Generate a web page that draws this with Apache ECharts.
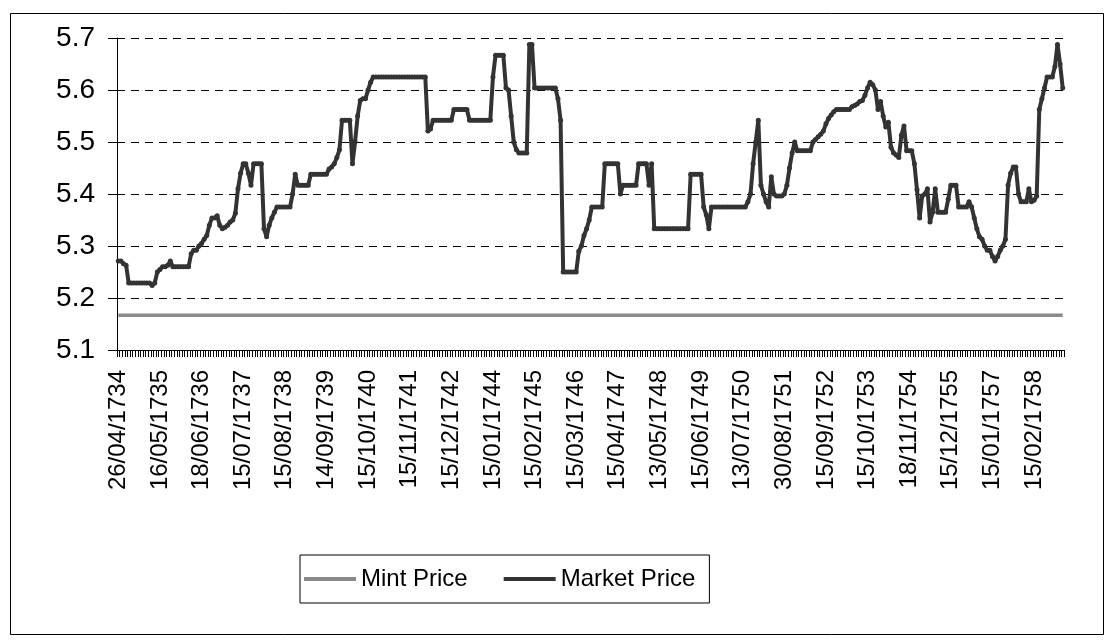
<!DOCTYPE html>
<html>
<head>
<meta charset="utf-8">
<script src="https://cdn.jsdelivr.net/npm/echarts@6/dist/echarts.min.js"></script>
<style>
html,body{margin:0;padding:0;background:#fff;}
#chart{width:1114px;height:644px;}
</style>
</head>
<body>
<div id="chart"></div>
<script>
// Visible date labels (one every 16 observations)
const tickLabels = ['26/04/1734','16/05/1735','18/06/1736','15/07/1737','15/08/1738','14/09/1739',
  '15/10/1740','15/11/1741','15/12/1742','15/01/1744','15/02/1745','15/03/1746','15/04/1747',
  '13/05/1748','15/06/1749','13/07/1750','30/08/1751','15/09/1752','15/10/1753','18/11/1754',
  '15/12/1755','15/01/1757','15/02/1758'];
const obsPerLabel = 16;

// Market price of silver (shillings per ounce)
const marketPrice = [
  5.271,5.271,5.266,5.263,5.229,5.229,5.229,5.229,5.229,5.229,
  5.229,5.229,5.229,5.224,5.229,5.25,5.255,5.26,5.26,5.263,
  5.271,5.26,5.26,5.26,5.26,5.26,5.26,5.26,5.285,5.292,
  5.292,5.30,5.305,5.313,5.32,5.34,5.354,5.354,5.358,5.34,
  5.333,5.336,5.34,5.346,5.35,5.363,5.41,5.44,5.458,5.458,
  5.44,5.417,5.458,5.458,5.458,5.458,5.333,5.318,5.34,5.354,
  5.365,5.375,5.375,5.375,5.375,5.375,5.375,5.40,5.438,5.417,
  5.417,5.417,5.417,5.417,5.438,5.438,5.438,5.438,5.438,5.438,
  5.438,5.448,5.452,5.458,5.47,5.485,5.542,5.542,5.542,5.542,
  5.458,5.50,5.55,5.58,5.583,5.583,5.60,5.615,5.625,5.625,
  5.625,5.625,5.625,5.625,5.625,5.625,5.625,5.625,5.625,5.625,
  5.625,5.625,5.625,5.625,5.625,5.625,5.625,5.625,5.625,5.521,
  5.525,5.542,5.542,5.542,5.542,5.542,5.542,5.542,5.542,5.5625,
  5.5625,5.5625,5.5625,5.5625,5.5625,5.542,5.542,5.542,5.542,5.542,
  5.542,5.542,5.542,5.542,5.625,5.667,5.667,5.667,5.667,5.604,
  5.60,5.55,5.50,5.485,5.479,5.479,5.479,5.479,5.6875,5.6875,
  5.604,5.604,5.604,5.604,5.604,5.604,5.604,5.604,5.604,5.583,
  5.542,5.25,5.25,5.25,5.25,5.25,5.25,5.29,5.30,5.32,
  5.333,5.35,5.375,5.375,5.375,5.375,5.375,5.458,5.458,5.458,
  5.458,5.458,5.458,5.40,5.417,5.417,5.417,5.417,5.417,5.417,
  5.458,5.458,5.458,5.458,5.417,5.458,5.333,5.333,5.333,5.333,
  5.333,5.333,5.333,5.333,5.333,5.333,5.333,5.333,5.333,5.333,
  5.438,5.438,5.438,5.438,5.438,5.375,5.36,5.333,5.375,5.375,
  5.375,5.375,5.375,5.375,5.375,5.375,5.375,5.375,5.375,5.375,
  5.375,5.375,5.385,5.40,5.458,5.50,5.542,5.417,5.40,5.385,
  5.375,5.433,5.40,5.396,5.396,5.396,5.40,5.417,5.45,5.479,
  5.50,5.483,5.483,5.483,5.483,5.483,5.483,5.50,5.505,5.51,
  5.515,5.521,5.535,5.545,5.552,5.558,5.5625,5.5625,5.5625,5.5625,
  5.5625,5.5625,5.568,5.57,5.573,5.578,5.58,5.59,5.604,5.615,
  5.61,5.60,5.5625,5.578,5.55,5.529,5.538,5.49,5.479,5.475,
  5.47,5.513,5.531,5.483,5.483,5.483,5.458,5.408,5.354,5.396,
  5.40,5.41,5.346,5.365,5.41,5.365,5.365,5.365,5.365,5.39,
  5.417,5.417,5.417,5.375,5.375,5.375,5.375,5.385,5.375,5.354,
  5.333,5.318,5.313,5.30,5.292,5.292,5.28,5.271,5.28,5.292,
  5.30,5.313,5.417,5.44,5.452,5.452,5.40,5.385,5.385,5.385,
  5.41,5.385,5.388,5.396,5.5625,5.583,5.604,5.625,5.625,5.625,
  5.645,5.6875,5.65,5.604
];

// Mint price (constant 5s 2d) at first and last observation
const mintPrice = [5.1667, 5.1667];

const yTicks = { min: 5.1, max: 5.7, step: 0.1 };

const categories = marketPrice.map((v, i) => (i % obsPerLabel === 0 ? (tickLabels[i / obsPerLabel] || '') : ''));
const lastIdx = marketPrice.length - 1;

const FONT = '"Liberation Sans", Arial, sans-serif';
const MINT_COLOR = '#8a8a8a';
const MARKET_COLOR = '#333333';
const chart = echarts.init(document.getElementById('chart'), null, { renderer: 'canvas' });
chart.setOption({
  backgroundColor: '#fff',
  animation: false,
  textStyle: { fontFamily: FONT },
  grid: { left: 117, right: 50, top: 38, bottom: 294, containLabel: false },
  graphic: [{
    type: 'rect', left: 10, top: 13, z: -1,
    shape: { width: 1093, height: 621 },
    style: { fill: '#fff', stroke: '#000', lineWidth: 1 }
  }],
  legend: {
    left: 300, top: 555,
    orient: 'horizontal',
    itemWidth: 52, itemHeight: 5, itemGap: 34,
    padding: [12, 14, 12, 2],
    borderColor: '#000', borderWidth: 1,
    textStyle: { fontSize: 24, color: '#000', fontFamily: FONT },
    data: [
      { name: 'Mint Price', itemStyle: { opacity: 0 }, lineStyle: { width: 4, color: MINT_COLOR } },
      { name: 'Market Price', lineStyle: { width: 4, color: MARKET_COLOR } }
    ]
  },
  xAxis: {
    type: 'category',
    data: categories,
    boundaryGap: true,
    axisLine: { lineStyle: { color: '#000', width: 1 } },
    axisTick: { show: true, interval: 0, length: 7, lineStyle: { color: '#000' } },
    axisLabel: {
      interval: obsPerLabel - 1, rotate: 90, margin: 20,
      fontSize: 24, color: '#000', fontFamily: FONT
    },
    splitLine: { show: false }
  },
  yAxis: {
    type: 'value',
    min: yTicks.min, max: yTicks.max, interval: yTicks.step,
    axisLine: { show: true, lineStyle: { color: '#000', width: 1 } },
    axisTick: { show: true, length: 9, lineStyle: { color: '#000' } },
    axisLabel: {
      margin: 22, fontSize: 28, color: '#000', fontFamily: FONT,
      formatter: v => v.toFixed(1)
    },
    splitLine: { show: true, lineStyle: { color: '#000', width: 1, type: [8, 6] } }
  },
  series: [
    {
      name: 'Mint Price', type: 'line',
      data: [[0, mintPrice[0]], [lastIdx, mintPrice[1]]],
      symbol: 'none',
      lineStyle: { color: MINT_COLOR, width: 3.5 },
      itemStyle: { color: MINT_COLOR },
      z: 2
    },
    {
      name: 'Market Price', type: 'line',
      data: marketPrice,
      symbol: 'circle', symbolSize: 5,
      showSymbol: true, showAllSymbol: true,
      lineStyle: { color: MARKET_COLOR, width: 4 },
      itemStyle: { color: MARKET_COLOR },
      z: 3
    }
  ]
});
</script>
</body>
</html>
